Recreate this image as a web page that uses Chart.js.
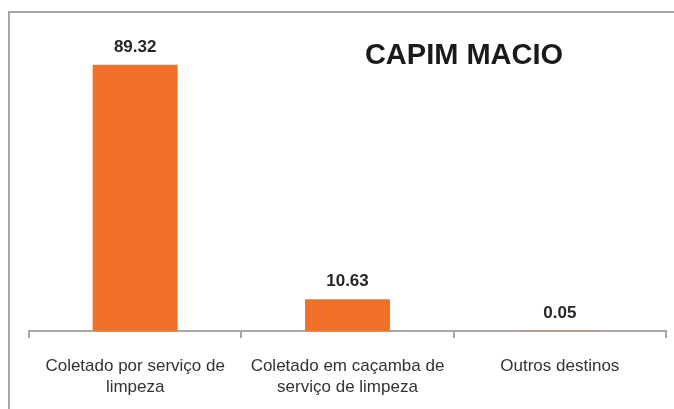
<!DOCTYPE html>
<html>
<head>
<meta charset="utf-8">
<script src="https://cdn.jsdelivr.net/npm/chart.js@4"></script>
<style>
  html, body { margin: 0; padding: 0; background: #fff; }
  #wrap { position: relative; width: 674px; height: 409px; overflow: hidden; }
  #frame { position: absolute; left: 8px; top: 11px; width: 700px; height: 430px; border: 2px solid #a6a6a6; }
  canvas { position: absolute; left: 0; top: 7px; }
</style>
</head>
<body>
<div id="wrap">
  <div id="frame"></div>
  <canvas id="chart" width="674" height="409"></canvas>
</div>
<script>
  // Chart data
  const categories = [
    ['Coletado por serviço de', 'limpeza'],
    ['Coletado em caçamba de', 'serviço de limpeza'],
    ['Outros destinos']
  ];
  const values = [89.32, 10.63, 0.05];
  const valueLabels = ['89.32', '10.63', '0.05'];
  const chartTitle = 'CAPIM MACIO';

  const barColor = '#f07028';
  const fontFamily = '"Liberation Sans", Arial, sans-serif';

  // Draw value labels above bars
  const valueLabelPlugin = {
    id: 'valueLabels',
    afterDatasetsDraw(chart) {
      const ctx = chart.ctx;
      const meta = chart.getDatasetMeta(0);
      ctx.save();
      ctx.font = 'bold 17px ' + fontFamily;
      ctx.fillStyle = '#262626';
      ctx.textAlign = 'center';
      ctx.textBaseline = 'alphabetic';
      meta.data.forEach((bar, i) => {
        ctx.fillText(valueLabels[i], bar.x, bar.y - 13);
      });
      ctx.restore();
    }
  };

  // Title in the upper right of the plot
  const titlePlugin = {
    id: 'cornerTitle',
    afterDraw(chart) {
      const ctx = chart.ctx;
      ctx.save();
      ctx.font = 'bold 29px ' + fontFamily;
      ctx.fillStyle = '#1a1a1a';
      ctx.textAlign = 'center';
      ctx.textBaseline = 'middle';
      ctx.fillText(chartTitle, 464, 49);
      ctx.restore();
    }
  };

  new Chart(document.getElementById('chart'), {
    type: 'bar',
    data: {
      labels: categories,
      datasets: [{
        data: values,
        backgroundColor: barColor,
        borderWidth: 0,
        categoryPercentage: 0.4,
        barPercentage: 1
      }]
    },
    options: {
      responsive: false,
      animation: false,
      layout: {
        padding: { left: 29, right: 8, top: 26, bottom: 0 }
      },
      plugins: {
        legend: { display: false },
        title: { display: false },
        tooltip: { enabled: false }
      },
      scales: {
        x: {
          grid: {
            offset: true,
            drawOnChartArea: false,
            drawTicks: true,
            tickLength: 7,
            color: '#a6a6a6',
            lineWidth: 2
          },
          border: { display: true, color: '#a6a6a6', width: 2 },
          ticks: {
            color: '#333333',
            font: { family: fontFamily, size: 17, lineHeight: '21px' },
            padding: 18,
            maxRotation: 0,
            autoSkip: false
          }
        },
        y: {
          display: false,
          min: 0,
          max: 100
        }
      }
    },
    plugins: [valueLabelPlugin, titlePlugin]
  });
</script>
</body>
</html>
